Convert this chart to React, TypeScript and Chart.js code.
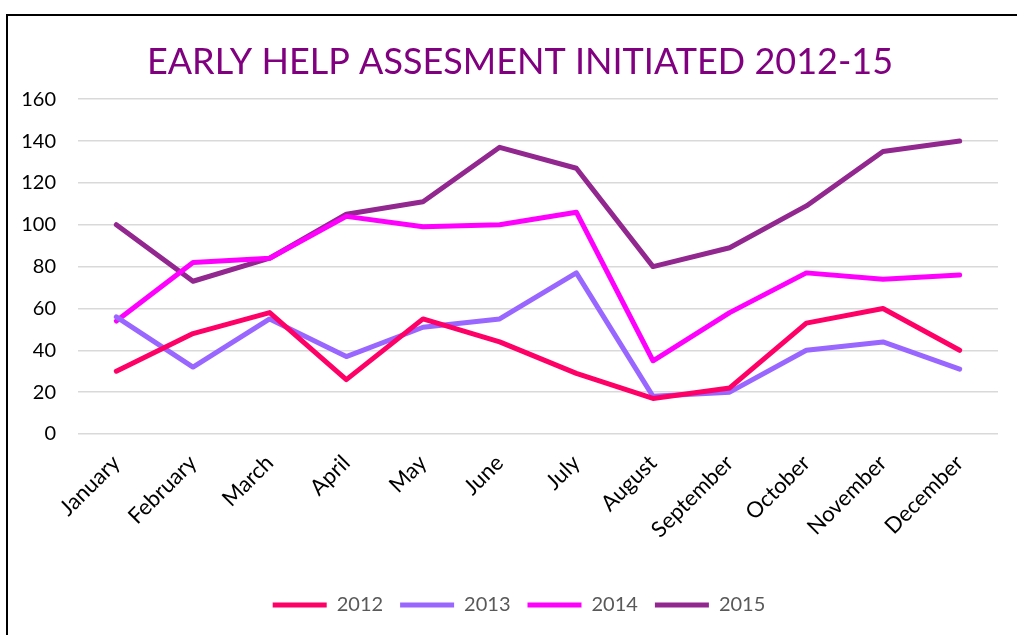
import React, { useEffect, useRef } from "react";
import { Chart, registerables } from "chart.js";

Chart.register(...registerables);

const months = ["January", "February", "March", "April", "May", "June", "July", "August", "September", "October", "November", "December"];
const s2012 = [30, 48, 58, 26, 55, 44, 29, 17, 22, 53, 60, 40];
const s2013 = [56, 32, 55, 37, 51, 55, 77, 18, 20, 40, 44, 31];
const s2014 = [54, 82, 84, 104, 99, 100, 106, 35, 58, 77, 74, 76];
const s2015 = [100, 73, 84, 105, 111, 137, 127, 80, 89, 109, 135, 140];
const seriesNames = ["2012", "2013", "2014", "2015"];
const seriesColors = ["#FF0066", "#9966FF", "#FF00FF", "#92278F"];
const yTicks = { min: 0, max: 160, step: 20 };
const titleText = "EARLY HELP ASSESMENT INITIATED 2012-15";

const FONT = "Lato, 'Open Sans', sans-serif";

// The original chart area extends past the right edge of the picture; centre title/legend on it.
const centerShift = {
  id: "centerShift",
  afterLayout(chart: any) {
    const shiftBox = (box: any, dx: number) => {
      if (!box) return;
      box.left += dx;
      box.right += dx;
    };
    shiftBox(chart.titleBlock, 17);
    shiftBox(chart.legend, 16);
  },
};

export default function App() {
  const ref = useRef<HTMLCanvasElement | null>(null);
  useEffect(() => {
    if (!ref.current) return;
    const values = [s2012, s2013, s2014, s2015];
    const chart = new Chart(ref.current, {
      type: "line",
      data: {
        labels: months,
        datasets: values.map((v, i) => ({
          label: seriesNames[i],
          data: v,
          borderColor: seriesColors[i],
          backgroundColor: seriesColors[i],
          borderWidth: 5,
          borderCapStyle: "round" as const,
          borderJoinStyle: "round" as const,
          pointRadius: 0,
          pointHoverRadius: 0,
          tension: 0,
          fill: false,
        })),
      },
      options: {
        responsive: false,
        animation: false,
        layout: { padding: { left: 0, right: 36, top: 0, bottom: 31 } },
        plugins: {
          title: {
            display: true,
            text: titleText,
            color: "#800080",
            font: { family: FONT, size: 36, weight: "normal" },
            padding: { top: 25, bottom: 15 },
          },
          legend: {
            display: true,
            position: "bottom",
            labels: {
              usePointStyle: true,
              pointStyle: "line",
              pointStyleWidth: 54,
              color: "#595959",
              font: { family: FONT, size: 20 },
              padding: 17,
            },
          },
          tooltip: { enabled: false },
        },
        scales: {
          x: {
            offset: true,
            grid: { display: false, drawTicks: false },
            border: { display: false },
            ticks: {
              color: "#000000",
              font: { family: FONT, size: 22 },
              minRotation: 45,
              maxRotation: 45,
              padding: 16,
              autoSkip: false,
            },
            afterFit: (scale: any) => {
              scale.height = 144;
            },
          },
          y: {
            min: yTicks.min,
            max: yTicks.max,
            grid: { color: "#d9d9d9", lineWidth: 1.5, drawTicks: false },
            border: { display: false },
            ticks: {
              stepSize: yTicks.step,
              color: "#000000",
              font: { family: FONT, size: 20 },
              padding: 22,
            },
            afterFit: (scale: any) => {
              scale.width = 70;
            },
          },
        },
      },
      plugins: [centerShift],
    });
    return () => chart.destroy();
  }, []);

  return (
    <div style={{ position: "fixed", left: 0, top: 0, width: 1017, height: 635, overflow: "hidden", background: "#fff" }}>
      <div
        style={{
          position: "absolute",
          left: 6,
          top: 14,
          width: 1100,
          height: 700,
          borderLeft: "2px solid #000",
          borderTop: "2px solid #000",
        }}
      />
      <canvas ref={ref} width={1026} height={640} style={{ position: "absolute", left: 8, top: 16 }} />
    </div>
  );
}
